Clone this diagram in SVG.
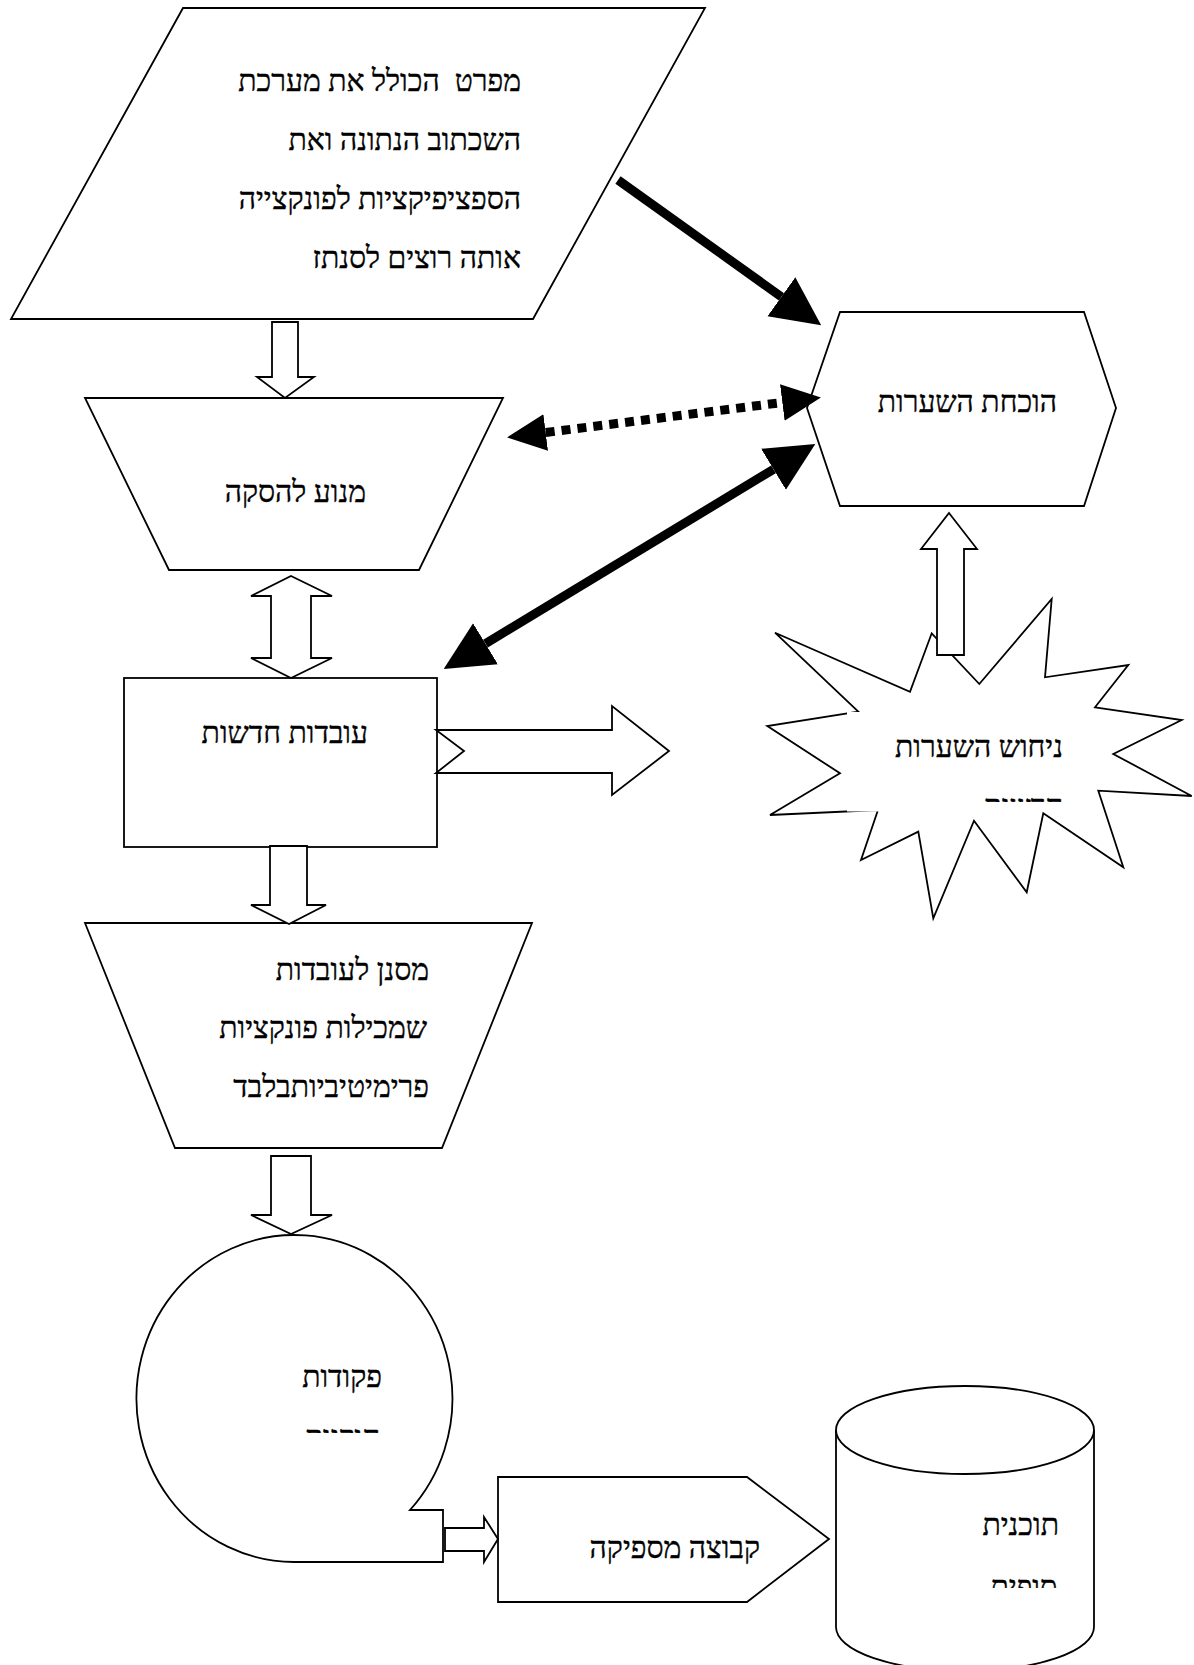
<svg xmlns="http://www.w3.org/2000/svg" width="1194" height="1665" viewBox="0 0 1194 1665">
<style>
.shape{fill:#fff;stroke:#000;stroke-width:1.8;stroke-linejoin:miter}
.hollow{fill:#fff;stroke:#000;stroke-width:1.8;stroke-linejoin:miter}
.lbl{font-family:"Liberation Serif","Times New Roman",serif;font-size:30px;fill:#000;stroke:#000;stroke-width:0.4;text-anchor:end}
.thick{stroke:#000;stroke-width:9;fill:none}
.dotted{stroke:#000;stroke-width:9;fill:none;stroke-dasharray:9 7}
</style>
<defs>
<marker id="headBig" markerUnits="userSpaceOnUse" markerWidth="50" markerHeight="50" viewBox="0 -23 46 46" refX="0" refY="0" orient="auto-start-reverse">
<path d="M0,-22 L45,0 L0,22 Z" fill="#000"/>
</marker>
<marker id="headSmall" markerUnits="userSpaceOnUse" markerWidth="40" markerHeight="40" viewBox="0 -18 37 36" refX="0" refY="0" orient="auto-start-reverse">
<path d="M0,-17 L36,0 L0,17 Z" fill="#000"/>
</marker>
<clipPath id="clipStar"><rect x="800" y="700" width="300" height="102"/></clipPath>
<clipPath id="clipTape"><rect x="200" y="1400" width="250" height="33"/></clipPath>
<clipPath id="clipCyl"><rect x="900" y="1550" width="190" height="38"/></clipPath>
</defs>

<g id="node-spec">
<polygon class="shape" points="183,8 705,8 533,319 11,319"/>
<text class="lbl" x="521" y="91" style="white-space:pre">מפרט  הכולל את מערכת</text>
<text class="lbl" x="521" y="150">השכתוב הנתונה ואת</text>
<text class="lbl" x="521" y="209">הספציפיקציות לפונקצייה</text>
<text class="lbl" x="521" y="268">אותה רוצים לסנתז</text>
</g>

<g id="node-proof">
<polygon class="shape" points="807,408 840,312 1084,312 1116,408 1084,506 840,506"/>
<text class="lbl" x="1057" y="412">הוכחת השערות</text>
</g>

<g id="node-engine">
<polygon class="shape" points="85,398 503,398 419,570 169,570"/>
<text class="lbl" x="366" y="502">מנוע להסקה</text>
</g>

<g id="node-facts">
<rect class="shape" x="124" y="678" width="313" height="169"/>
<text class="lbl" x="368" y="743">עובדות חדשות</text>
</g>

<g id="node-guess">
<polygon class="shape" points="1051.7,599 1045,677.3 1128.3,665 1095,707.3 1181.7,720 1113.3,754 1191.7,796 1098.3,790.7 1123.3,867.3 1043.3,813.3 1026.7,892.3 974,820.7 933.3,918.3 918.3,831.7 861,860 878,810 770,815 840,773.3 767.3,726 858.3,711.7 775,632.7 910,691.7 931.7,633.3 979.3,684"/>
<rect x="847" y="712" width="198" height="99.5" fill="#fff" stroke="none"/>
<text class="lbl" x="1063" y="757">ניחוש השערות</text>
<text class="lbl" x="1063" y="816" clip-path="url(#clipStar)">חדשות</text>
</g>

<g id="node-filter">
<polygon class="shape" points="85,923 532,923 442,1148 175,1148"/>
<text class="lbl" x="429" y="980">מסנן לעובדות</text>
<text class="lbl" x="427" y="1038">שמכילות פונקציות</text>
<text class="lbl" x="429" y="1097">פרימיטיביותבלבד</text>
</g>

<g id="node-commands">
<path class="shape" d="M294,1562 A158,163.5 0 1 1 410,1510 L443,1510 L443,1562 Z"/>
<text class="lbl" x="382" y="1387">פקודות</text>
<text class="lbl" x="380" y="1447" clip-path="url(#clipTape)">חוקיות</text>
</g>

<g id="node-set">
<polygon class="shape" points="498,1477 747,1477 829,1539 747,1602 498,1602"/>
<text class="lbl" x="760" y="1558">קבוצה מספיקה</text>
</g>

<g id="node-program">
<path class="shape" d="M836,1430 L836,1627 A129,44 0 0 0 1094,1627 L1094,1430"/>
<ellipse class="shape" cx="965" cy="1430" rx="129" ry="44"/>
<text class="lbl" x="1059" y="1535">תוכנית</text>
<text class="lbl" x="1057" y="1597" clip-path="url(#clipCyl)">סופית</text>
</g>

<g id="connectors">
<polygon class="hollow" points="272,322 298,322 298,377 314,377 285,398 257,377 272,377"/>
<polygon class="hollow" points="291,576 332,596 311,596 311,658 332,658 291,678 251,658 271,658 271,596 251,596"/>
<polygon class="hollow" points="270,846 307,846 307,905 326,905 289,924 251,905 270,905"/>
<polygon class="hollow" points="436,730 612,730 612,706 669,751 612,795 612,773 436,773 464,751"/>
<polygon class="hollow" points="949,513 977,549 964,549 964,655 937,655 937,549 921,549"/>
<polygon class="hollow" points="271,1156 311,1156 311,1215 332,1215 291,1234 251,1215 271,1215"/>
<polygon class="hollow" points="445,1528 484,1528 484,1517 498,1539 484,1562 484,1551 445,1551"/>
<line class="thick" x1="618" y1="180" x2="781.4" y2="296.8" marker-end="url(#headBig)"/>
<line class="thick" x1="485.5" y1="643.7" x2="773.5" y2="469.3" marker-start="url(#headBig)" marker-end="url(#headBig)"/>
<line class="dotted" x1="545.7" y1="432.5" x2="782.3" y2="402.5" marker-start="url(#headSmall)" marker-end="url(#headSmall)"/>
</g>
</svg>
